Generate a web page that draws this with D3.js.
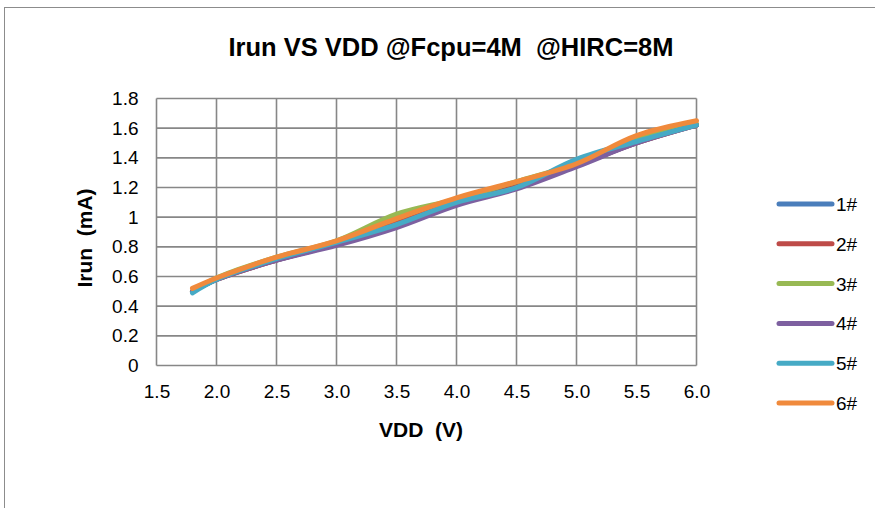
<!DOCTYPE html>
<html>
<head>
<meta charset="utf-8">
<script src="https://cdn.jsdelivr.net/npm/d3@7"></script>
<style>
  body { margin: 0; background: #fff; }
  text { font-family: "Liberation Sans", Arial, sans-serif; }
</style>
</head>
<body>
<div id="my-chart"></div>
<script>
// VDD sample points (V)
const vdd = [1.8, 2.0, 2.5, 3.0, 3.5, 4.0, 4.5, 5.0, 5.5, 6.0];

// Irun per sample (mA)
const s1 = [0.50, 0.58, 0.71, 0.82, 0.95, 1.09, 1.21, 1.35, 1.50, 1.62];
const s2 = [0.50, 0.58, 0.71, 0.82, 0.96, 1.10, 1.22, 1.35, 1.50, 1.62];
const s3 = [0.50, 0.59, 0.73, 0.84, 1.02, 1.12, 1.24, 1.36, 1.52, 1.63];
const s4 = [0.50, 0.58, 0.71, 0.81, 0.93, 1.08, 1.19, 1.34, 1.50, 1.62];
const s5 = [0.49, 0.58, 0.72, 0.83, 0.95, 1.10, 1.20, 1.39, 1.51, 1.62];
const s6 = [0.52, 0.59, 0.73, 0.84, 0.99, 1.13, 1.24, 1.36, 1.55, 1.65];

const seriesNames = ["1#", "2#", "3#", "4#", "5#", "6#"];
const seriesValues = [s1, s2, s3, s4, s5, s6];
const colors = ["#4A7EBB", "#BE4B48", "#98B954", "#7D60A0", "#46AAC5", "#F08A3C"];

const xTicks = [1.5, 2.0, 2.5, 3.0, 3.5, 4.0, 4.5, 5.0, 5.5, 6.0];
const yTicks = [0, 0.2, 0.4, 0.6, 0.8, 1.0, 1.2, 1.4, 1.6, 1.8];

const width = 875, height = 508;
const plotLeft = 156.5, plotRight = 696.5, plotTop = 98.5, plotBottom = 365.5;

const svg = d3.select("#my-chart").append("svg")
    .attr("width", width)
    .attr("height", height)
    .attr("viewBox", [0, 0, width, height]);

// outer chart border (right/bottom run off the page)
svg.append("rect")
    .attr("x", 4.5).attr("y", 7.5)
    .attr("width", width + 10).attr("height", height + 10)
    .attr("fill", "#fff")
    .attr("stroke", "#8c8c8c");

const x = d3.scaleLinear().domain([1.5, 6.0]).range([plotLeft, plotRight]);
const y = d3.scaleLinear().domain([0, 1.8]).range([plotBottom, plotTop]);

// grid
svg.append("g")
    .selectAll("line")
    .data(xTicks)
    .join("line")
      .attr("x1", d => x(d)).attr("x2", d => x(d))
      .attr("y1", plotTop).attr("y2", plotBottom)
      .attr("stroke", "#878787").attr("stroke-width", 1.6);

svg.append("g")
    .selectAll("line")
    .data(yTicks)
    .join("line")
      .attr("x1", plotLeft).attr("x2", plotRight)
      .attr("y1", d => y(d)).attr("y2", d => y(d))
      .attr("stroke", "#878787").attr("stroke-width", 1.6);

// axes (labels only)
svg.append("g")
    .attr("transform", `translate(0,${plotBottom})`)
    .call(d3.axisBottom(x).tickValues(xTicks).tickFormat(d3.format(".1f")).tickSize(0).tickPadding(19))
    .call(g => g.select(".domain").remove())
    .call(g => g.selectAll("text")
        .attr("font-size", 19)
        .attr("font-family", "Liberation Sans, Arial, sans-serif")
        .attr("fill", "#000"));

svg.append("g")
    .attr("transform", `translate(${plotLeft},0)`)
    .call(d3.axisLeft(y).tickValues(yTicks).tickFormat(d => d3.format("")(+d.toFixed(1))).tickSize(0).tickPadding(18))
    .call(g => g.select(".domain").remove())
    .call(g => g.selectAll("text")
        .attr("font-size", 19)
        .attr("font-family", "Liberation Sans, Arial, sans-serif")
        .attr("fill", "#000"));

// series lines
const line = d3.line()
    .x((d, i) => x(vdd[i]))
    .y(d => y(d))
    .curve(d3.curveCatmullRom.alpha(0.5));

svg.append("g")
    .attr("fill", "none")
    .attr("stroke-linecap", "round")
    .attr("stroke-linejoin", "round")
  .selectAll("path")
  .data(seriesValues)
  .join("path")
    .attr("d", d => line(d))
    .attr("stroke", (d, i) => colors[i])
    .attr("stroke-width", 5);

// titles
svg.append("text")
    .attr("x", 451).attr("y", 56)
    .attr("text-anchor", "middle")
    .attr("font-size", 25.5)
    .attr("font-weight", "bold")
    .attr("xml:space", "preserve")
    .text("Irun VS VDD @Fcpu=4M  @HIRC=8M");

svg.append("text")
    .attr("x", 421).attr("y", 437)
    .attr("text-anchor", "middle")
    .attr("font-size", 21)
    .attr("font-weight", "bold")
    .attr("xml:space", "preserve")
    .text("VDD  (V)");

svg.append("text")
    .attr("transform", "translate(92,238) rotate(-90)")
    .attr("text-anchor", "middle")
    .attr("font-size", 21)
    .attr("font-weight", "bold")
    .attr("xml:space", "preserve")
    .text("Irun  (mA)");

// legend
const legend = svg.append("g")
  .selectAll("g")
  .data(seriesNames)
  .join("g")
    .attr("transform", (d, i) => `translate(0,${204 + i * 39.8})`);

legend.append("line")
    .attr("x1", 779).attr("x2", 832)
    .attr("stroke", (d, i) => colors[i])
    .attr("stroke-width", 5)
    .attr("stroke-linecap", "round");

legend.append("text")
    .attr("x", 836).attr("y", 7)
    .attr("font-size", 19)
    .text(d => d);
</script>
</body>
</html>
